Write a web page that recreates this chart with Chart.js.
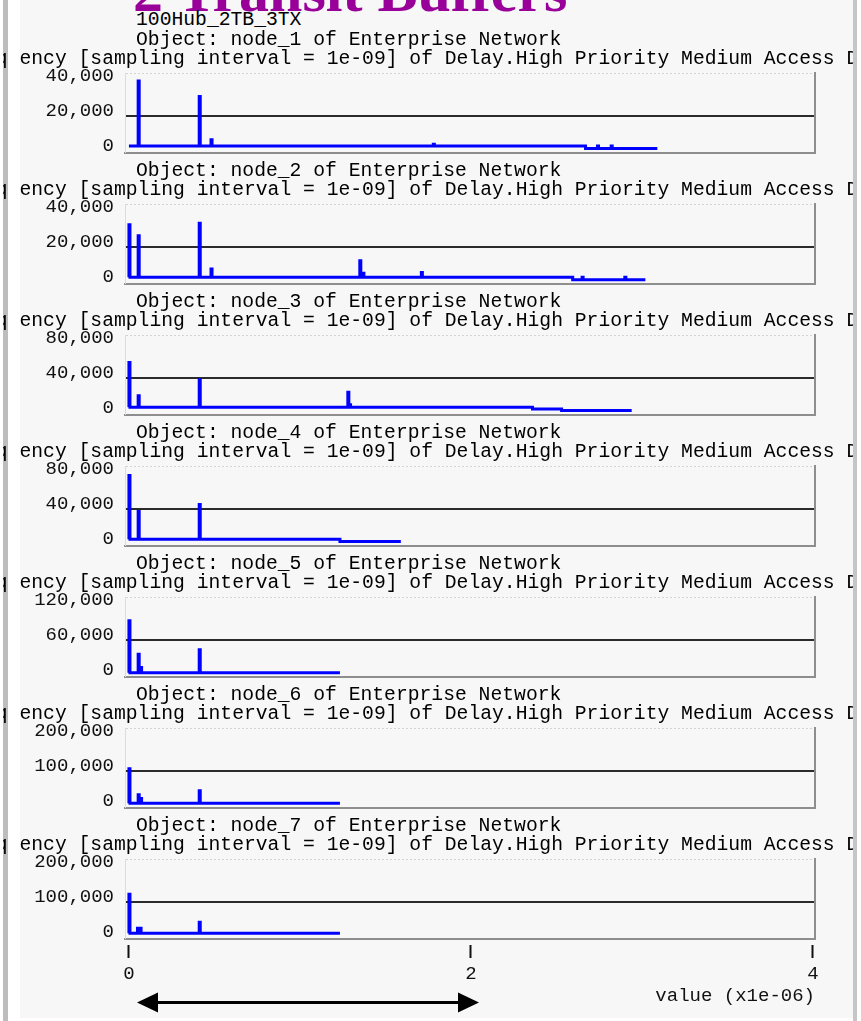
<!DOCTYPE html>
<html>
<head>
<meta charset="utf-8">
<script src="https://cdn.jsdelivr.net/npm/chart.js@4.4.1/dist/chart.umd.min.js"></script>
<style>
  html, body { margin: 0; padding: 0; background: #fff; }
  #page { position: relative; width: 861px; height: 1021px; overflow: hidden; background: #fff; }
  #sheet { position: absolute; left: 20px; top: 0; width: 833px; height: 1018px; background: #f7f7f7; }
  #frameL { position: absolute; left: 3px; top: 0; width: 5px; height: 1021px; background: #bdbdbd; }
  #frameR { position: absolute; left: 853px; top: 0; width: 4px; height: 1021px; background: #c6c6c6; z-index: 5; }
  #gap { position: absolute; left: 8px; top: 0; width: 12px; height: 1021px; background: #fff; z-index: 4; }
  .mono { position: absolute; font-family: 'Liberation Mono', 'DejaVu Sans Mono', monospace; font-size: 19.7px;
          line-height: 22px; color: #000; white-space: pre; z-index: 3; }
  .clip { position: absolute; left: 3px; width: 851px; height: 24px; overflow: hidden; z-index: 3; }
  .clip span { position: absolute; left: -42.6px; top: 0; }
  #banner { position: absolute; left: 133px; top: -39.3px; font-family: 'Liberation Serif', serif; font-weight: bold;
            font-size: 60px; line-height: 60px; color: #990099; white-space: pre; z-index: 3; }
  canvas.panel { position: absolute; left: 0; }
  #arrow { position: absolute; left: 0; top: 0; z-index: 3; }
</style>
</head>
<body>
<div id="page">
  <div id="sheet"></div>
  <div id="frameL"></div>
  <div id="banner">2 Transit Buffers</div>
  <div class="mono" style="left:136px; top:9.3px;">100Hub_2TB_3TX</div>
  <svg id="arrow" width="861" height="1021">
    <line x1="154" y1="1002.5" x2="462" y2="1002.5" stroke="#000" stroke-width="3"/>
    <polygon points="137,1002.5 158,992.5 158,1012.5" fill="#000"/>
    <polygon points="479,1002.5 458,992.5 458,1012.5" fill="#000"/>
  </svg>
  <div id="gap"></div>
  <div id="frameR"></div>
</div>
<script>
// Delay axis, in units of 1e-06 s
const xTicks = [0, 2, 4];
const xTitle = 'value (x1e-06)';
const nodeNames = ['node_1', 'node_2', 'node_3', 'node_4', 'node_5', 'node_6', 'node_7'];
const objectLine = name => 'Object: ' + name + ' of Enterprise Network';
const statLine = 'Frequency [sampling interval = 1e-09] of Delay.High Priority Medium Access Delay (sec)';

// Per-node histogram: y tick values, spikes [delay, count], floor steps [delay, count], last delay
const yTicks1 = [0, 20000, 40000];
const spikes1 = [[0.054, 40000], [0.411, 31100], [0.48, 6400], [1.78, 3900], [2.74, 2900], [2.82, 2900]];
const floor1 = [[0, 2900], [2.67, 1500]];
const end1 = 3.09;

const yTicks2 = [0, 20000, 40000];
const spikes2 = [[0, 32700], [0.054, 26500], [0.411, 33600], [0.48, 7500], [1.35, 12100], [1.368, 5000],
                 [1.71, 5400], [2.65, 2700], [2.90, 2700]];
const floor2 = [[0, 2700], [2.595, 1300]];
const end2 = 3.02;

const yTicks3 = [0, 40000, 80000];
const spikes3 = [[0, 57700], [0.054, 19700], [0.411, 38000], [1.28, 23800], [1.29, 9400]];
const floor3 = [[0, 6500], [2.36, 4600], [2.53, 3000]];
const end3 = 2.94;

const yTicks4 = [0, 40000, 80000];
const spikes4 = [[0, 78300], [0.054, 37100], [0.411, 45100]];
const floor4 = [[0, 5400], [1.234, 2900]];
const end4 = 1.59;

const yTicks5 = [0, 60000, 120000];
const spikes5 = [[0, 92900], [0.054, 35700], [0.068, 12900], [0.411, 43200]];
const floor5 = [[0, 3900]];
const end5 = 1.234;

const yTicks6 = [0, 100000, 200000];
const spikes6 = [[0, 106300], [0.054, 32000], [0.068, 21400], [0.411, 43400]];
const floor6 = [[0, 7700]];
const end6 = 1.234;

const yTicks7 = [0, 100000, 200000];
const spikes7 = [[0, 122300], [0.05, 25100], [0.065, 25100], [0.411, 42300]];
const floor7 = [[0, 10600]];
const end7 = 1.234;

const panels = [
  [yTicks1, spikes1, floor1, end1],
  [yTicks2, spikes2, floor2, end2],
  [yTicks3, spikes3, floor3, end3],
  [yTicks4, spikes4, floor4, end4],
  [yTicks5, spikes5, floor5, end5],
  [yTicks6, spikes6, floor6, end6],
  [yTicks7, spikes7, floor7, end7]
];

// layout
const PITCH = 131, PLOT_TOP = 73, PLOT_H = 80, PAD_TOP = 16;
const SPIKE_W = 0.006;
const X_MIN = -0.023, X_MAX = 4.012;
const MONO = "'Liberation Mono', 'DejaVu Sans Mono', monospace";
const INK = '#111';

function levelAt(floor, x) {
  let lv = floor[0][1];
  for (const [fx, fl] of floor) if (x >= fx) lv = fl;
  return lv;
}

function buildSeries(spikes, floor, end) {
  const events = [];
  floor.slice(1).forEach(([x, c]) => events.push({ x, step: true }));
  spikes.forEach(([x, c]) => events.push({ x, c }));
  events.sort((a, b) => a.x - b.x);
  const pts = [{ x: floor[0][0], y: floor[0][1] }];
  for (const e of events) {
    if (e.step) {
      pts.push({ x: e.x, y: levelAt(floor, e.x - 1e-9) });
      pts.push({ x: e.x, y: levelAt(floor, e.x) });
    } else {
      const lv = levelAt(floor, e.x);
      pts.push({ x: e.x, y: lv }, { x: e.x, y: e.c }, { x: e.x + SPIKE_W, y: e.c }, { x: e.x + SPIKE_W, y: lv });
    }
  }
  pts.push({ x: end, y: levelAt(floor, end) });
  return pts;
}

function noPad(s) {
  s.paddingTop = 0; s.paddingBottom = 0; s.paddingLeft = 0; s.paddingRight = 0;
}

const page = document.getElementById('page');

panels.forEach(([yTicks, spikes, floor, end], k) => {
  const last = k === panels.length - 1;
  const top = PLOT_TOP + PITCH * k;

  // panel headings
  const obj = document.createElement('div');
  obj.className = 'mono';
  obj.style.left = '136px';
  obj.style.top = (top - 44.3) + 'px';
  obj.textContent = objectLine(nodeNames[k]);
  page.appendChild(obj);

  const clip = document.createElement('div');
  clip.className = 'clip mono';
  clip.style.top = (top - 24.7) + 'px';
  const sp = document.createElement('span');
  sp.textContent = statLine;
  clip.appendChild(sp);
  page.appendChild(clip);

  // chart canvas
  const cv = document.createElement('canvas');
  cv.className = 'panel';
  const axisH = last ? 76 : 0;
  const padB = last ? 0 : 2;
  cv.width = 861;
  cv.height = PAD_TOP + PLOT_H + axisH + padB;
  cv.style.top = (top - PAD_TOP) + 'px';
  page.appendChild(cv);

  const mid = yTicks[1];
  const yMin = -mid * 2 / 35;
  const yMax = mid * 78 / 35;

  new Chart(cv.getContext('2d'), {
    type: 'line',
    data: {
      datasets: [{
        data: buildSeries(spikes, floor, end),
        borderColor: '#0000ff',
        borderWidth: 3,
        pointRadius: 0,
        fill: false,
        tension: 0
      }]
    },
    options: {
      responsive: false,
      animation: false,
      devicePixelRatio: 1,
      events: [],
      layout: { autoPadding: false, padding: { top: PAD_TOP, bottom: padB, left: 0, right: 0 } },
      plugins: { legend: { display: false }, tooltip: { enabled: false }, title: { display: false } },
      scales: {
        x: {
          type: 'linear',
          position: 'bottom',
          min: X_MIN,
          max: X_MAX,
          afterBuildTicks: s => { s.ticks = xTicks.map(v => ({ value: v })); },
          afterFit: s => { s.height = axisH; noPad(s); },
          grid: {
            display: last,
            drawOnChartArea: false,
            drawTicks: true,
            tickLength: 19,
            tickWidth: 2,
            tickColor: INK,
            tickBorderDash: [0, 5, 14, 40]
          },
          border: { display: true, color: '#8e8e8e', width: 2 },
          ticks: {
            display: last,
            autoSkip: false,
            maxRotation: 0,
            padding: 5,
            color: INK,
            font: { family: MONO, size: 19 },
            callback: v => String(v)
          },
          title: {
            display: last,
            text: xTitle,
            align: 'end',
            color: INK,
            font: { family: MONO, size: 19 },
            padding: { top: 0, bottom: 8 }
          }
        },
        y: {
          type: 'linear',
          position: 'left',
          min: yMin,
          max: yMax,
          afterBuildTicks: s => { s.ticks = [...yTicks, yMax].map(v => ({ value: v })); },
          afterFit: s => { s.width = 125; noPad(s); },
          grid: {
            drawTicks: false,
            color: c => (c.tick && c.tick.value === yMax) ? '#d4d4d4' : '#2b2b2b',
            lineWidth: c => {
              if (!c.tick) return 0;
              if (c.tick.value === mid) return 2;
              if (c.tick.value === yMax) return 1;
              return 0;
            }
          },
          border: {
            display: true,
            color: '#dcdcdc',
            width: 1,
            dash: c => (c.tick && c.tick.value === yMax) ? [2, 2] : []
          },
          ticks: {
            autoSkip: false,
            padding: 11,
            labelOffset: -5,
            color: INK,
            font: { family: MONO, size: 19 },
            callback: v => (v === yMax ? '' : v.toLocaleString('en-US'))
          }
        },
        yEdge: {
          type: 'linear',
          position: 'right',
          afterFit: s => { s.width = 861 - 815; noPad(s); },
          grid: { display: false },
          ticks: { display: false },
          border: { display: true, color: '#8e8e8e', width: 2 }
        }
      }
    }
  });
});
</script>
</body>
</html>
